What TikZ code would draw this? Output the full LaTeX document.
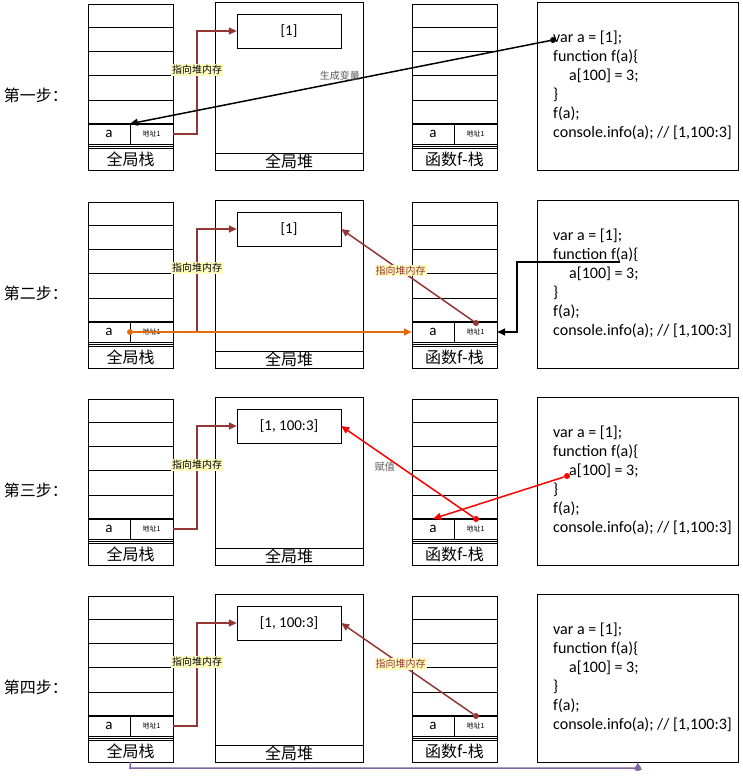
\documentclass[tikz,border=0pt]{standalone}
\usepackage{fontspec}
\setmainfont{Carlito}
\newfontfamily\cjk{Noto Sans CJK SC}
\usetikzlibrary{arrows.meta}
\definecolor{brn}{HTML}{943634}
\definecolor{org}{HTML}{E36C09}
\definecolor{pur}{HTML}{8064A2}
\tikzset{
  cell/.style={draw,minimum height=20pt,inner sep=0pt,font=\fontsize{15}{15}\selectfont},
  tiny/.style={draw,minimum height=20pt,minimum width=43pt,inner sep=0pt,font=\cjk\fontsize{7}{7}\selectfont},
  lab/.style={draw,minimum height=22pt,minimum width=85pt,inner sep=0pt,font=\cjk\fontsize{16}{16}\selectfont},
  tag/.style={fill=yellow!25,inner sep=1pt,font=\cjk\fontsize{10}{10}\selectfont},
  plain/.style={inner sep=1pt,font=\cjk\fontsize{10}{10}\selectfont,text=gray!70!black},
  arr/.style={line width=1.5pt,-{Triangle[length=8pt,width=7pt]}},
  ptr/.style={brn,arr},
  dot/.style={circle,fill,inner sep=0pt,minimum size=6pt},
}
\newcommand{\panel}[3]{%
\begin{scope}[yshift=-#2pt]
 \draw (88,4) rectangle (173,170);
 \foreach \yy in {27,51,75,100} \draw (88,\yy) -- (173,\yy);
 \draw[line width=1.5pt] (88,124) -- (173,124);
 \node[cell,minimum width=42pt] (sa#1) at (109,134) {a};
 \node[tiny] (sp#1) at (151.5,134) {地址1};
 \draw (88,146) -- (173,146);
 \node[lab] (sl#1) at (130.5,159) {全局栈};
 \draw (215,2) rectangle (363,170);
 \draw (215,153) -- (363,153);
 \node[font=\cjk\fontsize{16}{16}\selectfont] (hl#1) at (289,161.5) {全局堆};
 \node[draw,minimum width=104pt,minimum height=34pt,font=\fontsize{15}{15}\selectfont] (hb#1) at (289,31) {#3};
 \draw (412,4) rectangle (497,170);
 \foreach \yy in {27,51,75,100} \draw (412,\yy) -- (497,\yy);
 \draw[line width=1.5pt] (412,124) -- (497,124);
 \node[cell,minimum width=42pt] (fa#1) at (433,134) {a};
 \node[tiny] (fp#1) at (475.5,134) {地址1};
 \draw (412,146) -- (497,146);
 \node[lab] (fl#1) at (454.5,159) {函数f-栈};
 \node[draw,minimum width=201pt,minimum height=168pt,inner sep=0pt] (cb#1) at (637.5,86) {};
 \node[anchor=north west,align=left,inner sep=0pt,font=\fontsize{16}{19}\selectfont] (ct#1) at (553,31) {var a = [1];\\function f(a)\{\\\hspace{1em}a[100] = 3;\\\}\\f(a);\\console.info(a); // [1,100:3]};
 \draw[ptr] (sp#1.east) -| (197,31) -- (hb#1.west);
 \node[tag] (tg#1) at (197,70) {指向堆内存};
\end{scope}}
\begin{document}
\begin{tikzpicture}[x=1pt,y=-1pt]
\useasboundingbox (0,0) rectangle (742,779);
\panel{1}{0}{[1]}
\panel{2}{198}{[1]}
\panel{3}{395}{[1, 100:3]}
\panel{4}{592}{[1, 100:3]}
\foreach \t/\yy in {第一步：/95,第二步：/293,第三步：/490,第四步：/687}
  \node[font=\cjk\fontsize{16}{16}\selectfont] at (36,\yy) {\t};
% step 1
\node[dot] (d1) at (553,40) {};
\draw[arr] (d1) -- (sp1.north west) node[plain,pos=0.5,above] {生成变量};
% step 2
\node[dot,brn] (d2) at (476,323) {};
\draw[ptr] (d2) -- (hb2.east) node[tag,pos=0.55] {指向堆内存};
\node[dot,org] (o2) at (130,332) {};
\draw[org,arr] (o2) -- (fa2.west);
\coordinate (k2) at (620,262);
\draw[arr] (k2) -| (517,332) -- (fp2.east);
% step 3
\node[dot,red] (d3) at (476,519) {};
\draw[red,arr] (d3) -- (hb3.east) node[plain,pos=0.55,left=4pt] {赋值};
\node[dot,red] (r3) at (567,476) {};
\draw[red,arr] (r3) -- (fa3.north);
% step 4
\node[dot,brn] (d4) at (476,716) {};
\draw[ptr] (d4) -- (hb4.east) node[tag,pos=0.55] {指向堆内存};
\node[dot,pur] (p4) at (638,768) {};
\draw[pur,arr] (sl4.south) -- (130,768) -- (p4.center) -- (cb4.south);
\end{tikzpicture}
\end{document}
